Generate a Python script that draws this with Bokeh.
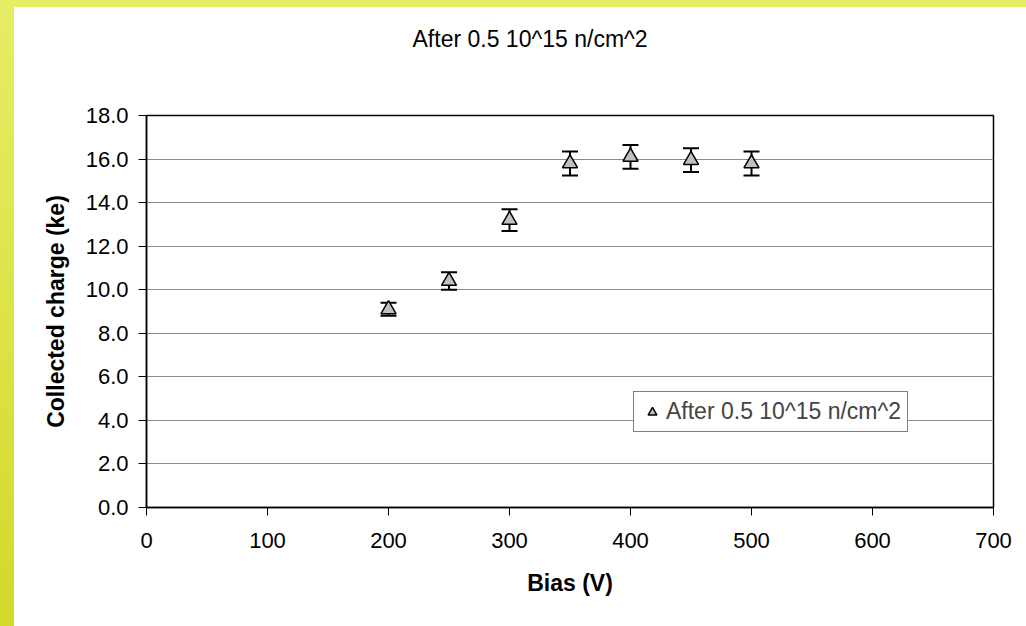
from bokeh.plotting import figure
from bokeh.models import (Range1d, ColumnDataSource, Whisker, TeeHead, Legend, LegendItem,
                          PrintfTickFormatter, FixedTicker, Spacer)
from bokeh.core.properties import value
from bokeh.layouts import row, column
from bokeh.embed import file_html
from bokeh.resources import INLINE

# ---- data ----
bias = [200, 250, 300, 350, 400, 450, 500]
charge = [9.1, 10.4, 13.2, 15.8, 16.1, 15.95, 15.8]
err = [0.3, 0.4, 0.5, 0.55, 0.55, 0.55, 0.55]
series_name = "After 0.5 10^15 n/cm^2"
title_text = "After 0.5 10^15 n/cm^2"
x_label = "Bias (V)"
y_label = "Collected charge (ke)"
x_ticks = [0, 100, 200, 300, 400, 500, 600, 700]
y_ticks = [0, 2, 4, 6, 8, 10, 12, 14, 16, 18]

FONT = "Liberation Sans"

src = ColumnDataSource(data=dict(
    x=bias, y=charge,
    upper=[c + e for c, e in zip(charge, err)],
    lower=[c - e for c, e in zip(charge, err)],
))

x_range = Range1d(0, 700)

# ---- title strip (a bare figure holding the title text, sharing the x range) ----
TH = 60
tfig = figure(width=1012, height=TH, output_backend="svg", toolbar_location=None,
              x_range=x_range, y_range=Range1d(0, TH), min_border=0)
tfig.axis.visible = False
tfig.grid.grid_line_color = None
tfig.outline_line_color = None
tfig.background_fill_color = "white"
tfig.border_fill_color = "white"
tsrc = ColumnDataSource(data=dict(x=[317], y=[29], t=[title_text]))
tfig.text("x", "y", text="t", source=tsrc, text_align="center", text_baseline="middle",
          text_font=value(FONT), text_font_size="23px", text_color="black")

# ---- main chart ----
fig = figure(width=1012, height=559, output_backend="svg", toolbar_location=None,
             x_range=x_range, y_range=Range1d(0, 18),
             min_border_left=132, min_border_right=33, min_border_top=48, min_border_bottom=119)
fig.background_fill_color = "white"
fig.border_fill_color = "white"
fig.outline_line_color = "black"
fig.outline_line_width = 1.5

fig.xgrid.grid_line_color = None
fig.ygrid.grid_line_color = "#8c8c8c"
fig.ygrid.grid_line_width = 1

for ax in (fig.xaxis[0], fig.yaxis[0]):
    ax.axis_line_color = "black"
    ax.axis_line_width = 1.5
    ax.major_tick_line_color = "black"
    ax.major_tick_line_width = 1
    ax.major_tick_out = 8
    ax.major_tick_in = 0
    ax.minor_tick_line_color = None
    ax.major_label_text_font = FONT
    ax.major_label_text_font_size = "22px"
    ax.major_label_text_color = "black"
    ax.axis_label_text_font = FONT
    ax.axis_label_text_font_size = "23px"
    ax.axis_label_text_font_style = "bold"
    ax.axis_label_text_color = "black"

fig.xaxis.ticker = FixedTicker(ticks=x_ticks)
fig.yaxis.ticker = FixedTicker(ticks=y_ticks)
fig.yaxis.formatter = PrintfTickFormatter(format="%.1f")
fig.xaxis.axis_label = x_label
fig.yaxis.axis_label = y_label
fig.yaxis.major_label_standoff = 10
fig.yaxis.axis_label_standoff = 14
fig.xaxis.major_label_standoff = 17
fig.xaxis.axis_label_standoff = 19

wh = Whisker(base="x", upper="upper", lower="lower", source=src,
             line_color="black", line_width=2,
             upper_head=TeeHead(size=16, line_width=2, line_color="black"),
             lower_head=TeeHead(size=16, line_width=2, line_color="black"))
fig.add_layout(wh)

r = fig.scatter("x", "y", source=src, marker="triangle", size=15,
                fill_color="#c0c0c0", line_color="black", line_width=1.5)

legend = Legend(items=[LegendItem(label=series_name, renderers=[r])],
                location=(487, 75), padding=6, margin=0, spacing=0,
                glyph_width=24, glyph_height=22, label_standoff=2,
                label_text_font=FONT, label_text_font_size="23px",
                border_line_color="black", border_line_width=1.5,
                background_fill_color="white", background_fill_alpha=1)
fig.add_layout(legend, "center")

top_strip = Spacer(width=1026, height=7, styles={"background": "#e5ee65"})
left_strip = Spacer(width=14, height=619,
                    styles={"background": "linear-gradient(#e5ee65, #d2d92a)"})

p = column(top_strip,
           row(left_strip, column(tfig, fig, spacing=0), spacing=0),
           spacing=0)

open("out.html", "w").write(file_html(p, INLINE))
